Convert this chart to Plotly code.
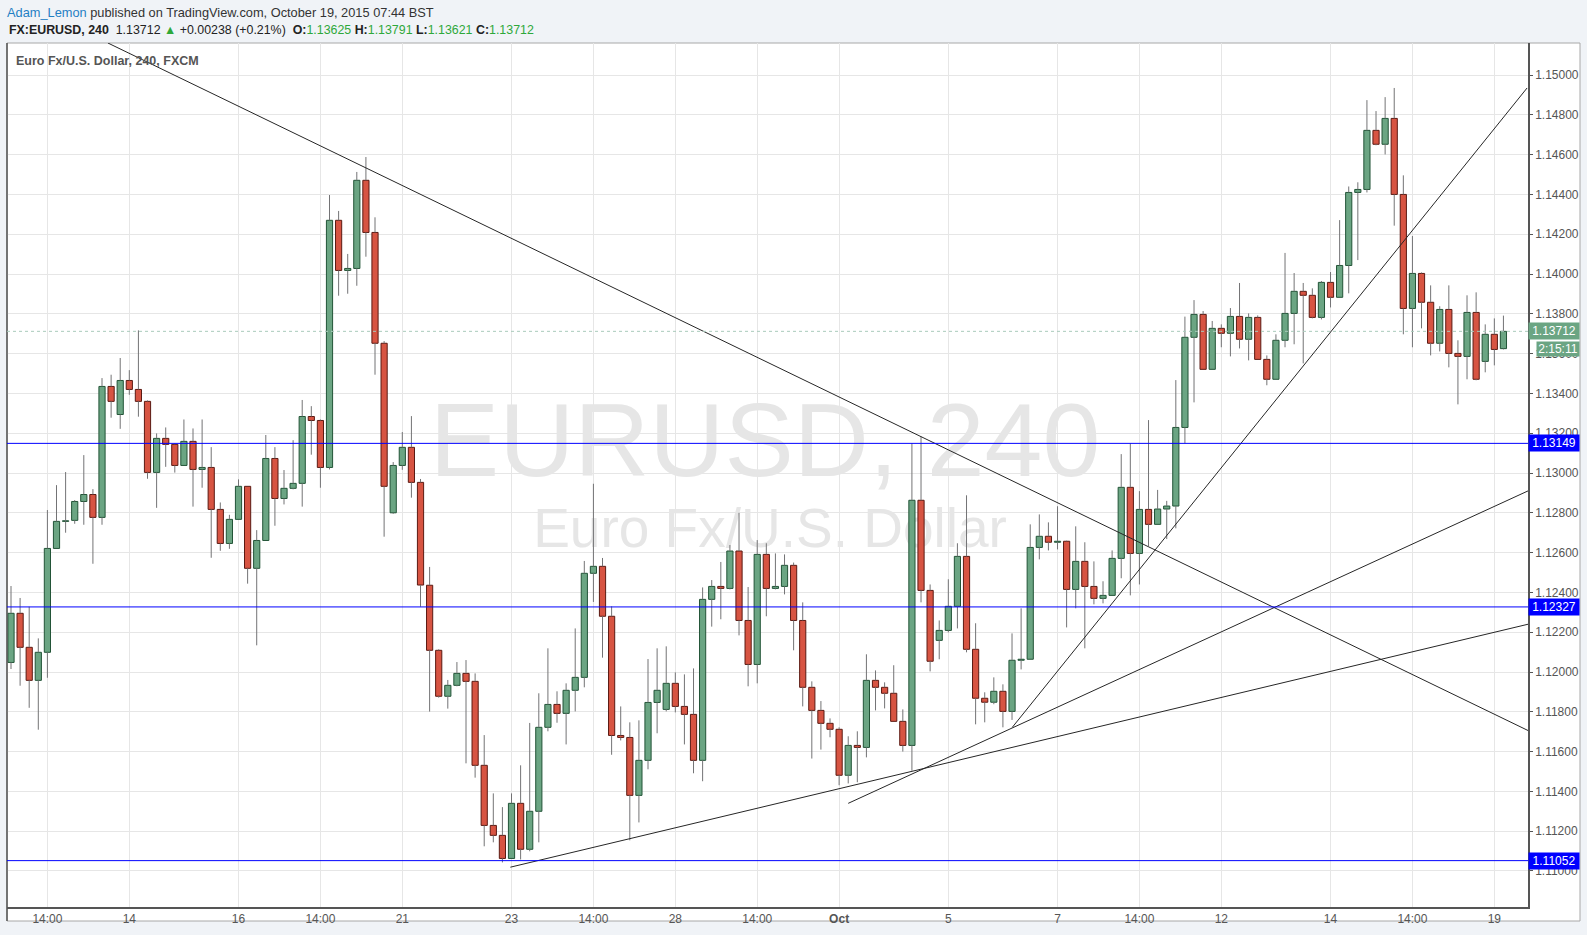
import plotly.graph_objects as go

# ---------------- data ----------------
opens = [1.12048,1.12295,1.12124,1.11958,1.12099,1.12621,1.12757,1.12762,1.12857,1.12892,
         1.12777,1.13435,1.13294,1.13465,1.13420,1.13360,1.13003,1.13174,1.13144,1.13038,
         1.13159,1.13018,1.13028,1.12817,1.12646,1.12767,1.12933,1.12521,1.12661,1.13073,
         1.12872,1.12923,1.12948,1.13284,1.13264,1.13028,1.14270,1.14018,1.14028,1.14471,
         1.14209,1.13652,1.12800,1.13038,1.13129,1.12953,1.12436,1.12109,1.11878,1.11933,
         1.11993,1.11953,1.11531,1.11229,1.11179,1.11063,1.11340,1.11109,1.11300,1.11722,
         1.11837,1.11792,1.11908,1.11973,1.12496,1.12531,1.12280,1.11681,1.11671,1.11380,
         1.11556,1.11847,1.11812,1.11943,1.11827,1.11787,1.11556,1.12365,1.12430,1.12420,
         1.12608,1.12259,1.12038,1.12591,1.12420,1.12430,1.12536,1.12259,1.11923,1.11807,
         1.11742,1.11712,1.11481,1.11631,1.11621,1.11958,1.11923,1.11893,1.11752,1.11631,
         1.12863,1.12410,1.12159,1.12209,1.12330,1.12581,1.12114,1.11868,1.11848,1.11903,
         1.11802,1.12059,1.12064,1.12626,1.12682,1.12652,1.12657,1.12415,1.12556,1.12430,
         1.12370,1.12385,1.12571,1.12928,1.12596,1.12817,1.12742,1.12819,1.12834,1.13229,
         1.13682,1.13797,1.13521,1.13727,1.13702,1.13787,1.13672,1.13782,1.13571,1.13471,
         1.13667,1.13802,1.13913,1.13893,1.13782,1.13958,1.13883,1.14043,1.14410,1.14425,
         1.14722,1.14652,1.14782,1.14400,1.13827,1.14003,1.13858,1.13652,1.13822,1.13601,
         1.13586,1.13807,1.13561,1.13697,1.13625]
highs = [1.12432,1.12372,1.12328,1.12169,1.12814,1.12939,1.13005,1.12864,1.13090,1.12919,
         1.13477,1.13494,1.13578,1.13517,1.13717,1.13365,1.13199,1.13229,1.13149,1.13269,
         1.13224,1.13269,1.13130,1.12852,1.12790,1.12968,1.12933,1.12713,1.13191,1.13130,
         1.13015,1.13165,1.13367,1.13336,1.13269,1.14397,1.14317,1.14101,1.14513,1.14588,
         1.14285,1.13663,1.13055,1.13206,1.13286,1.12970,1.12528,1.12114,1.11960,1.12050,
         1.12060,1.11993,1.11683,1.11390,1.11321,1.11390,1.11531,1.11744,1.11893,1.12119,
         1.11903,1.11943,1.12219,1.12558,1.12946,1.12573,1.12330,1.11827,1.11747,1.11757,
         1.12065,1.12119,1.12129,1.11998,1.11988,1.12018,1.12425,1.12462,1.12553,1.12638,
         1.12800,1.12427,1.12663,1.12647,1.12596,1.12591,1.12550,1.12350,1.11953,1.11854,
         1.11767,1.11722,1.11677,1.11702,1.12089,1.12008,1.11948,1.12034,1.11812,1.13149,
         1.13183,1.12440,1.12259,1.12466,1.12647,1.12888,1.12245,1.11898,1.11973,1.11938,
         1.12194,1.12320,1.12742,1.12792,1.12752,1.12833,1.12660,1.12732,1.12652,1.12556,
         1.12456,1.12611,1.13095,1.13149,1.12909,1.13266,1.12915,1.12860,1.13467,1.13786,
         1.13869,1.13814,1.13764,1.13747,1.13829,1.13955,1.13802,1.13792,1.13591,1.13697,
         1.14106,1.14005,1.13955,1.13928,1.13965,1.14010,1.14271,1.14440,1.14461,1.14874,
         1.14819,1.14889,1.14935,1.14496,1.14191,1.14008,1.13943,1.13838,1.13943,1.13667,
         1.13893,1.13908,1.13747,1.13777,1.13791]
lows = [1.12015,1.11931,1.11820,1.11710,1.11971,1.12621,1.12700,1.12745,1.12740,1.12544,
        1.12740,1.13278,1.13222,1.13393,1.13283,1.12971,1.12825,1.13031,1.13002,1.13038,
        1.12831,1.12926,1.12574,1.12609,1.12619,1.12767,1.12444,1.12134,1.12661,1.12735,
        1.12842,1.12918,1.12831,1.13092,1.12926,1.13018,1.13891,1.13901,1.13941,1.14087,
        1.13494,1.12680,1.12795,1.13016,1.12876,1.12328,1.11801,1.11871,1.11816,1.11928,
        1.11541,1.11469,1.11124,1.11144,1.11043,1.11063,1.11058,1.11099,1.11144,1.11702,
        1.11745,1.11636,1.11802,1.11923,1.12352,1.12072,1.11584,1.11656,1.11154,1.11244,
        1.11511,1.11692,1.11802,1.11797,1.11636,1.11491,1.11451,1.12228,1.12265,1.12415,
        1.12184,1.11928,1.11943,1.12280,1.12415,1.12390,1.12109,1.11827,1.11565,1.11610,
        1.11672,1.11431,1.11440,1.11446,1.11571,1.11807,1.11817,1.11752,1.11600,1.11504,
        1.12350,1.12003,1.12064,1.12199,1.12219,1.12099,1.11737,1.11747,1.11838,1.11722,
        1.11759,1.12013,1.12064,1.12566,1.12611,1.12616,1.12224,1.12320,1.12119,1.12340,
        1.12345,1.12385,1.12471,1.12385,1.12440,1.12633,1.12742,1.12668,1.12722,1.13149,
        1.13355,1.13521,1.13521,1.13632,1.13586,1.13626,1.13566,1.13571,1.13441,1.13471,
        1.13632,1.13647,1.13551,1.13777,1.13772,1.13832,1.13883,1.13903,1.14070,1.14410,
        1.14647,1.14601,1.14243,1.13697,1.13632,1.13727,1.13591,1.13611,1.13531,1.13345,
        1.13471,1.13466,1.13506,1.13541,1.13621]
closes = [1.12295,1.12124,1.11958,1.12099,1.12621,1.12757,1.12760,1.12857,1.12892,1.12777,
          1.13435,1.13360,1.13465,1.13420,1.13360,1.13003,1.13174,1.13144,1.13038,1.13159,
          1.13018,1.13028,1.12817,1.12646,1.12767,1.12933,1.12521,1.12661,1.13073,1.12872,
          1.12923,1.12948,1.13284,1.13264,1.13028,1.14270,1.14018,1.14028,1.14471,1.14209,
          1.13652,1.12933,1.13038,1.13129,1.12953,1.12437,1.12109,1.11878,1.11933,1.11993,
          1.11953,1.11531,1.11229,1.11179,1.11063,1.11340,1.11109,1.11300,1.11722,1.11837,
          1.11792,1.11908,1.11973,1.12496,1.12531,1.12280,1.11681,1.11671,1.11380,1.11556,
          1.11847,1.11908,1.11943,1.11827,1.11787,1.11556,1.12365,1.12430,1.12420,1.12608,
          1.12259,1.12038,1.12591,1.12420,1.12430,1.12536,1.12259,1.11923,1.11807,1.11742,
          1.11712,1.11481,1.11631,1.11621,1.11958,1.11923,1.11893,1.11752,1.11631,1.12863,
          1.12410,1.12054,1.12209,1.12330,1.12581,1.12114,1.11868,1.11848,1.11903,1.11802,
          1.12059,1.12064,1.12626,1.12682,1.12652,1.12657,1.12415,1.12556,1.12430,1.12370,
          1.12385,1.12571,1.12928,1.12596,1.12817,1.12742,1.12819,1.12834,1.13229,1.13682,
          1.13797,1.13521,1.13727,1.13702,1.13787,1.13672,1.13782,1.13571,1.13471,1.13667,
          1.13802,1.13913,1.13893,1.13782,1.13958,1.13883,1.14043,1.14410,1.14425,1.14722,
          1.14652,1.14782,1.14400,1.13827,1.14003,1.13858,1.13652,1.13822,1.13601,1.13586,
          1.13807,1.13471,1.13697,1.13621,1.13712]

tick_index = [4, 13, 25, 34, 43, 55, 64, 73, 82, 91, 103, 115, 124, 133, 145, 154, 163]
tick_labels = ['14:00', '14', '16', '14:00', '21', '23', '14:00', '28', '14:00', '<b>Oct</b>',
               '5', '7', '14:00', '12', '14', '14:00', '19']

levels = [1.13149, 1.12327, 1.11052]
last_price = 1.13712
countdown_text = '2:15:11'
countdown_price = 1.13625

trend_x0 = [10.65, 54.87, 92.0, 110.03]
trend_y0 = [1.15161, 1.11019, 1.11340, 1.11722]
trend_x1 = [166.7, 166.7, 166.7, 166.6]
trend_y1 = [1.11706, 1.12240, 1.12910, 1.14935]

# ---------------- geometry helpers ----------------
W, H = 1587, 935
L_, R_, T_, B_ = 7, 1528, 43, 907
def px(x):
    return (x - L_) / (R_ - L_)
def py(y):
    return (B_ - y) / (B_ - T_)

GREEN_F, GREEN_B = '#6ba583', '#225437'
RED_F, RED_B = '#d75442', '#5b1a13'
WICK = '#737375'
FONT = 'Liberation Sans, Arial, sans-serif'

n = len(opens)
idx = list(range(n))

# wicks split so they do not cross the bodies
wx, wy = [], []
base, hgt, fills, borders = [], [], [], []
for i in idx:
    o, h, l, c = opens[i], highs[i], lows[i], closes[i]
    top, bot = max(o, c), min(o, c)
    wx += [i, i, None, i, i, None]
    wy += [h, top, None, bot, l, None]
    base.append(bot)
    hgt.append(max(top - bot, 0.00002))
    up = c >= o
    fills.append(GREEN_F if up else RED_F)
    borders.append(GREEN_B if up else RED_B)

fig = go.Figure()
fig.add_trace(go.Scatter(x=wx, y=wy, mode='lines', line=dict(color=WICK, width=1),
                         hoverinfo='skip', showlegend=False))
fig.add_trace(go.Bar(x=idx, y=hgt, base=base, width=0.68,
                     marker=dict(color=fills, line=dict(color=borders, width=1)),
                     hoverinfo='skip', showlegend=False))

# trend lines
tx, ty = [], []
for a, b, c, d in zip(trend_x0, trend_y0, trend_x1, trend_y1):
    tx += [a, c, None]
    ty += [b, d, None]
fig.add_trace(go.Scatter(x=tx, y=ty, mode='lines', line=dict(color='#262626', width=1),
                         hoverinfo='skip', showlegend=False))

shapes = []
# white chart frame
shapes.append(dict(type='rect', xref='paper', yref='paper', x0=px(7), x1=px(1580),
                   y0=py(921), y1=py(43), fillcolor='white', line=dict(color='#a8a8a8', width=1),
                   layer='below'))
shapes.append(dict(type='line', xref='paper', yref='paper', x0=px(7), x1=px(7),
                   y0=py(921), y1=py(43), line=dict(color='#555555', width=1.5), layer='above'))
# watermark
shapes.append(dict(type='rect', xref='paper', yref='paper', x0=px(420), x1=px(1110),
                   y0=py(480), y1=py(380), line=dict(width=0), fillcolor='rgba(0,0,0,0)',
                   layer='below',
                   label=dict(text='EURUSD, 240', textposition='middle center',
                              font=dict(size=104, color='#e6e6e6', family=FONT))))
shapes.append(dict(type='rect', xref='paper', yref='paper', x0=px(500), x1=px(1040),
                   y0=py(553), y1=py(493), line=dict(width=0), fillcolor='rgba(0,0,0,0)',
                   layer='below',
                   label=dict(text='Euro Fx/U.S. Dollar', textposition='middle center',
                              font=dict(size=55, color='#e6e6e6', family=FONT))))
# horizontal levels
for lv in levels:
    shapes.append(dict(type='line', xref='paper', yref='y', x0=0, x1=1, y0=lv, y1=lv,
                       line=dict(color='#0000ff', width=1), layer='above'))
# last price dotted line
shapes.append(dict(type='line', xref='paper', yref='y', x0=0, x1=1, y0=last_price, y1=last_price,
                   line=dict(color='#a9cbbb', width=1, dash='dot'), layer='above'))

ann = []
ann.append(dict(xref='paper', yref='paper', x=px(5), y=py(12), xanchor='left', yanchor='middle',
                showarrow=False, align='left',
                text="<span style='color:#1f7fc4'>Adam_Lemon</span> published on TradingView.com, October 19, 2015 07:44 BST",
                font=dict(size=12.8, color='#333333', family=FONT)))
G = '#2ea83a'
line2 = ("<b>FX:EURUSD, 240</b>  1.13712 <span style='color:%s'>▲</span> +0.00238 (+0.21%%)  "
         "<b>O:</b><span style='color:%s'>1.13625</span> <b>H:</b><span style='color:%s'>1.13791</span> "
         "<b>L:</b><span style='color:%s'>1.13621</span> <b>C:</b><span style='color:%s'>1.13712</span>") % (G, G, G, G, G)
ann.append(dict(xref='paper', yref='paper', x=px(7), y=py(30), xanchor='left', yanchor='middle',
                showarrow=False, align='left', text=line2,
                font=dict(size=12.4, color='#222222', family=FONT)))
ann.append(dict(xref='paper', yref='paper', x=px(14), y=py(61), xanchor='left', yanchor='middle',
                showarrow=False, align='left', text='<b>Euro Fx/U.S. Dollar, 240, FXCM</b>',
                font=dict(size=12.5, color='#555555', family=FONT)))
# axis value labels
for lv in levels:
    ann.append(dict(xref='paper', yref='y', x=1.0, y=lv, xanchor='left', yanchor='middle',
                    showarrow=False, text='%.5f' % lv, bgcolor='#0000ff', width=50, height=16,
                    borderpad=0, align='center', font=dict(size=12, color='white', family=FONT)))
ann.append(dict(xref='paper', yref='y', x=1.0, y=last_price, xanchor='left', yanchor='middle',
                showarrow=False, text='%.5f' % last_price, bgcolor='#6ba583', width=50, height=16,
                borderpad=0, align='center', font=dict(size=12, color='white', family=FONT)))
ann.append(dict(xref='paper', yref='y', x=px(1536), y=countdown_price, xanchor='left', yanchor='middle',
                showarrow=False, text=countdown_text, bgcolor='#6ba583', width=42, height=14,
                borderpad=0, align='center', font=dict(size=12, color='white', family=FONT)))

fig.update_layout(
    width=W, height=H,
    margin=dict(l=L_, r=W - R_, t=T_, b=H - B_, pad=0),
    paper_bgcolor='#f0f3f7', plot_bgcolor='white',
    showlegend=False, hovermode=False, barmode='overlay',
    shapes=shapes, annotations=ann,
    xaxis=dict(range=[-0.44, 166.7], tickvals=tick_index, ticktext=tick_labels,
               showgrid=True, gridcolor='#e6e6e6', gridwidth=1, zeroline=False,
               showline=True, linecolor='#555555', linewidth=1.5, ticks='',
               tickfont=dict(size=12, color='#555555', family=FONT)),
    yaxis=dict(range=[1.10819, 1.15161], side='right', dtick=0.002, tick0=1.11,
               tickformat='.5f', showgrid=True, gridcolor='#e6e6e6', gridwidth=1,
               zeroline=False, showline=True, linecolor='#555555', linewidth=1.5,
               ticks='outside', ticklen=3, tickcolor='#555555',
               tickfont=dict(size=12, color='#555555', family=FONT)),
)

fig.write_html('out.html', config={'displayModeBar': False},
               post_script="document.body.style.margin='0';document.body.style.background='#f0f3f7';")
